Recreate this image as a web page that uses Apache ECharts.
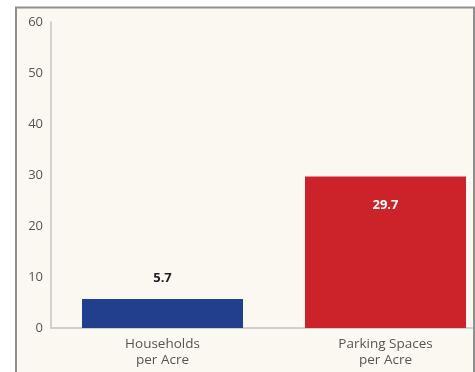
<!DOCTYPE html>
<html><head><meta charset="utf-8">
<script src="https://cdn.jsdelivr.net/npm/echarts@6/dist/echarts.min.js"></script>
<style>html,body{margin:0;padding:0;background:#fff;overflow:hidden;width:475px;height:372px;}#c{width:500px;height:372px;}</style>
</head><body><div id="c"></div>
<script>
const categories = ["Households\nper Acre", "Parking Spaces\nper Acre"];
const values = [5.7, 29.7];
const barColors = ["#213f8c", "#cc2229"];
const yTicks = [0, 10, 20, 30, 40, 50, 60];

const chart = echarts.init(document.getElementById('c'));
const font = '"Open Sans", sans-serif';
chart.setOption({
  backgroundColor: '#ffffff',
  animation: false,
  graphic: [
    {type: 'rect', z: -10, silent: true, shape: {x: 16, y: 7, width: 460, height: 400}, style: {fill: '#fbf8f2', stroke: null}},
    {type: 'rect', z: 100, silent: true, shape: {x: 16, y: 7.5, width: 458, height: 400}, style: {fill: 'none', stroke: '#8f8f8f', lineWidth: 2}}
  ],
  grid: {left: 51, top: 22, right: 3, bottom: 44, containLabel: false},
  xAxis: {
    type: 'category', data: categories,
    axisLine: {lineStyle: {color: '#c4c4c4', width: 1.5}},
    axisTick: {show: false},
    axisLabel: {color: '#555', fontSize: 13.5, fontFamily: font, lineHeight: 16, margin: 8}
  },
  yAxis: {
    type: 'value', min: yTicks[0], max: yTicks[yTicks.length - 1], interval: 10,
    axisLine: {show: true, lineStyle: {color: '#c4c4c4', width: 1.5}},
    axisTick: {show: false},
    splitLine: {show: false},
    axisLabel: {color: '#555', fontSize: 13, fontFamily: font, margin: 8}
  },
  series: [{
    type: 'bar', barWidth: 161,
    data: values.map((v, i) => ({
      value: v,
      itemStyle: {color: barColors[i]},
      label: i === 0
        ? {show: true, position: 'top', distance: 14, color: '#222', fontWeight: 'bold', fontSize: 13, fontFamily: font}
        : {show: true, position: 'insideTop', distance: 22, color: '#fff', fontWeight: 'bold', fontSize: 13, fontFamily: font}
    }))
  }]
});
</script></body></html>
